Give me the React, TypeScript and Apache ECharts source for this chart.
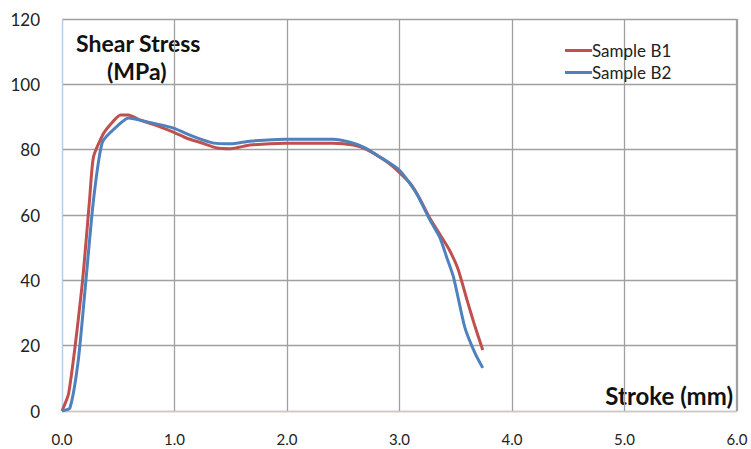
import React, { useEffect, useRef } from "react";
import * as echarts from "echarts";

const seriesNames = ["Sample B1", "Sample B2"];
const sampleB1: [number, number][] = [
  [0, 0], [0.06, 5.5], [0.18, 39], [0.245, 64.6], [0.28, 77.8], [0.37, 85], [0.45, 88.5],
  [0.52, 90.6], [0.59, 90.6], [0.7, 89], [0.87, 87], [0.99, 85.4], [1.11, 83.5], [1.23, 82.2],
  [1.38, 80.5], [1.5, 80.3], [1.67, 81.4], [1.98, 82], [2.41, 82], [2.59, 81.4], [2.71, 80],
  [2.89, 76.2], [3.0, 73], [3.1, 69.5], [3.18, 65], [3.27, 59], [3.36, 54], [3.44, 49.5],
  [3.52, 43.5], [3.6, 34], [3.67, 26], [3.74, 18.7],
];
const sampleB2: [number, number][] = [
  [0, 0], [0.07, 0.9], [0.145, 15.6], [0.21, 39], [0.28, 64.6], [0.36, 82.4], [0.5, 87.5],
  [0.59, 89.7], [0.76, 88.5], [0.99, 86.6], [1.17, 84], [1.35, 82], [1.5, 81.8], [1.67, 82.6],
  [1.98, 83.2], [2.41, 83.2], [2.56, 82.3], [2.68, 80.8], [2.83, 77.7], [3.0, 73.7],
  [3.15, 66.7], [3.27, 58.5], [3.36, 53], [3.42, 47], [3.48, 41], [3.58, 25.7], [3.67, 17.8],
  [3.74, 13.2],
];
const colors = ["#c0504d", "#4f81bd"];
const yTitle = ["Shear Stress", "(MPa)"];
const xTitle = "Stroke (mm)";

const FONT = "Lato, 'Open Sans', sans-serif";

export default function App() {
  const ref = useRef<HTMLDivElement>(null);
  useEffect(() => {
    if (!ref.current) return;
    const chart = echarts.init(ref.current, null, { renderer: "svg" });
    chart.setOption({
      animation: false,
      backgroundColor: "#fff",
      grid: { left: 62, right: 14, top: 19, bottom: 38, containLabel: false },
      legend: {
        orient: "vertical",
        left: 560,
        top: 37,
        itemGap: 5,
        itemWidth: 27,
        itemHeight: 3,
        icon: "rect",
        textStyle: { fontFamily: FONT, fontSize: 17, color: "#222", padding: [0, 0, 0, -5] },
        data: seriesNames,
      },
      xAxis: {
        type: "value",
        min: 0,
        max: 6,
        interval: 1,
        axisLine: { show: true, lineStyle: { color: "#b9cde5", width: 1 } },
        axisTick: { show: false },
        splitLine: { show: true, lineStyle: { color: "#a0a0a0", width: 1.3 } },
        axisLabel: {
          fontFamily: FONT,
          fontSize: 15,
          color: "#222",
          margin: 20,
          formatter: (v: number) => v.toFixed(1),
        },
      },
      yAxis: {
        type: "value",
        min: 0,
        max: 120,
        interval: 20,
        axisLine: { show: true, lineStyle: { color: "#b9cde5", width: 1 } },
        axisTick: { show: false },
        splitLine: { show: true, lineStyle: { color: "#a0a0a0", width: 1.3 } },
        axisLabel: { fontFamily: FONT, fontSize: 17, color: "#222", margin: 22 },
      },
      graphic: [
        {
          type: "line",
          shape: { x1: 736.5, y1: 19, x2: 736.5, y2: 411 },
          style: { stroke: "#a0a0a0", lineWidth: 1.3 },
          z: 1,
        },
        {
          type: "text",
          left: 76,
          top: 31,
          style: { text: yTitle[0], font: `bold 23px ${FONT}`, fill: "#111" },
        },
        {
          type: "text",
          left: 107,
          top: 59,
          style: { text: yTitle[1], font: `bold 23px ${FONT}`, fill: "#111" },
        },
        {
          type: "text",
          right: 18,
          top: 383,
          style: { text: xTitle, font: `bold 24px ${FONT}`, fill: "#111" },
        },
      ],
      series: [
        {
          name: seriesNames[0],
          type: "line",
          data: sampleB1,
          showSymbol: false,
          smooth: 0.2,
          lineStyle: { color: colors[0], width: 3 },
          itemStyle: { color: colors[0] },
          z: 3,
        },
        {
          name: seriesNames[1],
          type: "line",
          data: sampleB2,
          showSymbol: false,
          smooth: 0.2,
          lineStyle: { color: colors[1], width: 3 },
          itemStyle: { color: colors[1] },
          z: 4,
        },
      ],
    });
    return () => chart.dispose();
  }, []);
  return <div ref={ref} style={{ width: 751, height: 449, position: "absolute", left: 0, top: 0 }} />;
}
